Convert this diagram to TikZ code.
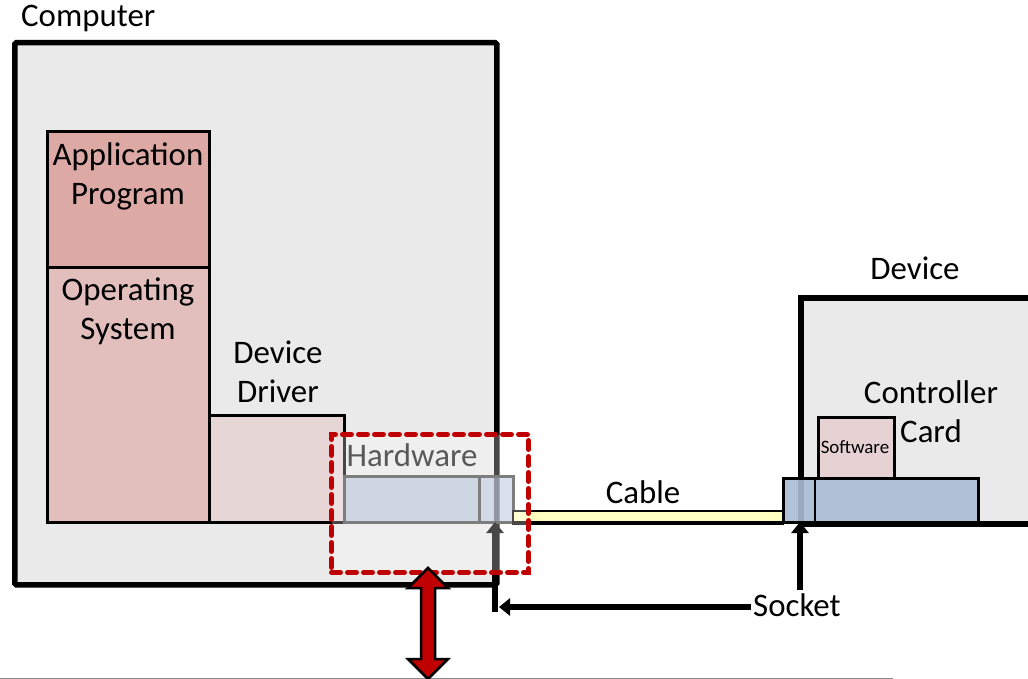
\documentclass[tikz,border=0pt]{standalone}
\usepackage{fontspec}
\setmainfont{Carlito}
\usetikzlibrary{arrows.meta}
\definecolor{cbg}{HTML}{EAEAEA}
\definecolor{capp}{HTML}{DDA9A5}
\definecolor{cos}{HTML}{E2BFBD}
\definecolor{cdrv}{HTML}{E6D6D5}
\definecolor{chw}{HTML}{BBC7D8}
\definecolor{csock}{HTML}{A9BBD5}
\definecolor{ccable}{HTML}{FFFFC0}
\definecolor{cctl}{HTML}{AABCD5}
\definecolor{csw}{HTML}{E6D2D2}
\definecolor{cred}{HTML}{C00000}
\definecolor{cgraytxt}{HTML}{595959}
\tikzset{
  x=1bp, y=-1bp,
  lbl/.style={font=\fontsize{33}{39}\selectfont, align=center, inner sep=0pt, text=black},
  blk/.style={draw=black, line width=3bp, anchor=north west, inner sep=0pt},
  hwbox/.style={draw=black!70, line width=2.5bp, anchor=north west, inner sep=0pt},
  sockarr/.style={line width=6bp, -{Triangle[width=17bp,length=11bp]}},
}
\newcommand{\bx}[6]{% name, style, x1, y1, x2, y2
  \node[#2, minimum width={(#5-#3)*1bp}, minimum height={(#6-#4)*1bp}] (#1) at (#3,#4) {};}
\begin{document}
\begin{tikzpicture}
\useasboundingbox (0,0) rectangle (1028,679);
% bottom edge artifact
\draw[black!45, line width=1bp] (0,678) -- (893,678);
% computer
\bx{comp}{blk, line width=5.5bp, fill=cbg, rounded corners=1.5bp}{12}{40}{494}{582}
\node[lbl, anchor=west] (complbl) at (21,18) {Computer};
% stack
\bx{app}{blk, fill=capp}{46}{130}{208}{266}
\bx{os}{blk, fill=cos}{46}{266}{208}{521}
\bx{drv}{blk, fill=cdrv}{208}{414}{343}{521}
\node[lbl] (applbl) at (128,176) {Application\\Program};
\node[lbl] (oslbl) at (128,311) {Operating\\System};
\node[lbl] (drvlbl) at (278,372) {Device\\Driver};
% hardware
\bx{hw}{hwbox, fill=chw}{343}{475}{478}{521}
\bx{sockl}{hwbox, fill=csock, fill opacity=0.6}{478}{475}{512}{521}
% cable
\bx{cable}{draw=black, line width=2bp, fill=ccable, anchor=north west, inner sep=0pt}{512}{510}{782}{521}
\draw[black, line width=3.5bp] (cable.south west) -- (cable.south east);
\node[lbl] (cablelbl) at (643,492) {Cable};
% device
\bx{dev}{blk, line width=5.5bp, fill=cbg}{798}{295}{1040}{521}
\node[lbl] (devlbl) at (915,268) {Device};
\bx{sw}{blk, fill=csw}{817}{416}{893}{477}
\node[font=\fontsize{19}{20}\selectfont, inner sep=0pt] (swlbl) at (855,447) {Software};
\bx{ctl}{draw=black, line width=2.5bp, fill=cctl, fill opacity=0.9, anchor=north west, inner sep=0pt}{782}{477}{977}{521}
\draw[black, line width=2.5bp] (815,477) -- (815,521);
\node[lbl] (ctllbl) at (931,412) {Controller\\Card};
% socket arrows
\node[lbl, anchor=west] (socklbl) at (753,605) {Socket};
\coordinate (s1) at (495,612);
\coordinate (s1t) at (495,522);
\coordinate (h1) at (751,607);
\coordinate (h1t) at (499,607);
\coordinate (s2) at (800,590);
\coordinate (s2t) at (800,522);
\draw[sockarr] (s1) -- (s1t);
\draw[sockarr] (h1) -- (h1t);
\draw[sockarr] (s2) -- (s2t);
% dashed highlight
\bx{hl}{draw=cred, line width=5bp, dash pattern=on 9bp off 7bp, fill=white, fill opacity=0.28, draw opacity=1, anchor=north west, inner sep=0pt, line cap=round}{329}{432}{526}{570}
\node[lbl, text=cgraytxt] (hwlbl) at (412,455) {Hardware};
% red double arrow
\coordinate (bus) at (428,623);
\draw[black, line width=2.5bp, fill=cred, line join=miter]
  ([yshift=55bp]bus) -- ++(20,20) -- ++(-13,0) -- ++(0,71) -- ++(13,0)
  -- ++(-20,20) -- ++(-20,-20) -- ++(13,0) -- ++(0,-71) -- ++(-13,0) -- cycle;
\end{tikzpicture}
\end{document}
